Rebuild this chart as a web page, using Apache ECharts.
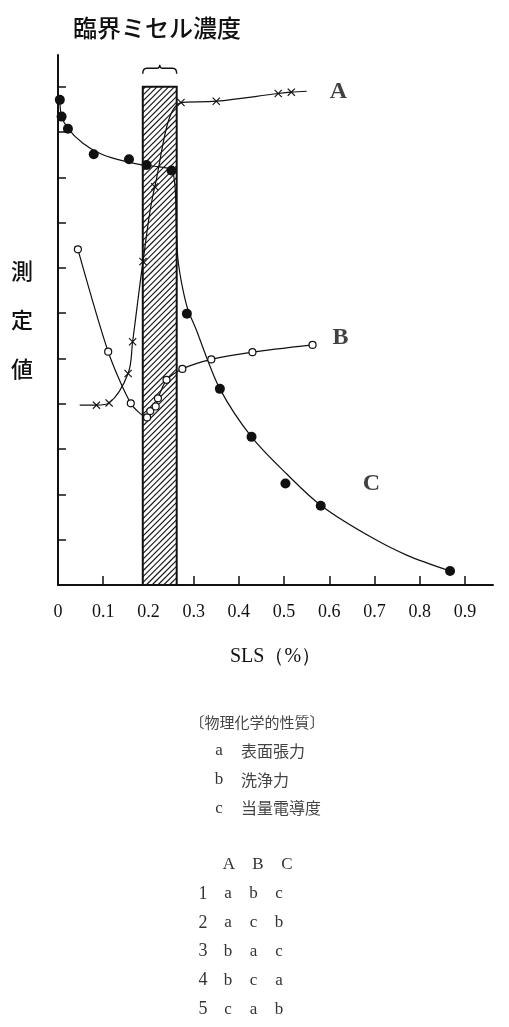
<!DOCTYPE html>
<html>
<head>
<meta charset="utf-8">
<script src="https://cdn.jsdelivr.net/npm/echarts@6/dist/echarts.min.js"></script>
<style>
  html, body { margin: 0; padding: 0; background: #fff; }
  #chart { width: 509px; height: 1027px; }
</style>
</head>
<body>
<div id="chart"></div>
<script>
// 軸
var xTickValues = [0.1, 0.2, 0.3, 0.4, 0.5, 0.6, 0.7, 0.8, 0.9];
var xLabelValues = [0, 0.1, 0.2, 0.3, 0.4, 0.5, 0.6, 0.7, 0.8, 0.9];
var yTickValues = [1, 2, 3, 4, 5, 6, 7, 8, 9, 10, 11];

// A: × 印
var aLeadIn = [0.048, 3.97];
var aPoints = [[0.085, 3.97], [0.113, 4.02], [0.155, 4.67], [0.165, 5.37], [0.188, 7.14],
               [0.214, 8.79], [0.272, 10.65], [0.350, 10.68], [0.487, 10.85], [0.516, 10.88]];
var aTail = [0.550, 10.90];

// B: ○ 印
var bPoints = [[0.044, 7.41], [0.111, 5.15], [0.161, 4.01], [0.197, 3.70], [0.204, 3.84],
               [0.216, 3.94], [0.221, 4.12], [0.240, 4.53], [0.275, 4.77], [0.339, 4.98],
               [0.430, 5.14], [0.563, 5.30]];

// C: ● 印（測定点）と引かれた曲線
var cDots = [[0.004, 10.71], [0.008, 10.34], [0.022, 10.07], [0.079, 9.51], [0.157, 9.40],
             [0.196, 9.27], [0.251, 9.15], [0.285, 5.99], [0.358, 4.33], [0.428, 3.27],
             [0.503, 2.24], [0.581, 1.75], [0.867, 0.31]];
var cCurve = [[0.004, 10.71], [0.008, 10.34], [0.022, 10.08], [0.055, 9.75], [0.092, 9.53],
              [0.129, 9.40], [0.188, 9.27], [0.225, 9.23], [0.251, 9.16], [0.258, 8.87],
              [0.262, 7.76], [0.2655, 7.17], [0.2765, 6.51], [0.2876, 6.07], [0.306, 5.63],
              [0.328, 5.04], [0.358, 4.33], [0.428, 3.27], [0.506, 2.45], [0.581, 1.76],
              [0.697, 1.03], [0.771, 0.66], [0.867, 0.31]];

// 臨界ミセル濃度の範囲
var cmcBand = [0.1875, 0.2625, 11];

// 曲線ラベル
var curveLabels = [[0.620, 10.88, 'A'], [0.625, 5.45, 'B'], [0.693, 2.23, 'C']];

// 下の文章
var propTitle = '〔物理化学的性質〕';
var propLetters = ['a', 'b', 'c'];
var propNames = ['表面張力', '洗浄力', '当量電導度'];
var tableHeader = ['A', 'B', 'C'];
var tableRows = [
    ['1', 'a', 'b', 'c'],
    ['2', 'a', 'c', 'b'],
    ['3', 'b', 'a', 'c'],
    ['4', 'b', 'c', 'a'],
    ['5', 'c', 'a', 'b']
];

var SERIF = '"Liberation Serif", "Times New Roman", serif';
var CJK = '"Noto Sans CJK JP", sans-serif';
var CROSS = 'path://M0,1L1,0L5,4L9,0L10,1L6,5L10,9L9,10L5,6L1,10L0,9L4,5Z';

var chart = echarts.init(document.getElementById('chart'), null, { renderer: 'canvas' });

function plain(p) {
    return { value: p, symbol: 'none' };
}

// centripetal Catmull-Rom -> bezier path
function splinePath(pts) {
    var n = pts.length;
    var d = 'M' + pts[0][0] + ',' + pts[0][1];
    function dist(a, b) {
        return Math.pow(Math.hypot(b[0] - a[0], b[1] - a[1]), 0.5);
    }
    for (var i = 0; i < n - 1; i++) {
        var p0 = pts[Math.max(0, i - 1)], p1 = pts[i], p2 = pts[i + 1], p3 = pts[Math.min(n - 1, i + 2)];
        var d1 = dist(p0, p1), d2 = dist(p1, p2), d3 = dist(p2, p3);
        var b1 = p1, b2 = p2;
        if (d1 > 1e-6) {
            b1 = [0, 1].map(function (k) {
                return (d1 * d1 * p2[k] - d2 * d2 * p0[k] + (2 * d1 * d1 + 3 * d1 * d2 + d2 * d2) * p1[k]) /
                    (3 * d1 * (d1 + d2));
            });
        }
        if (d3 > 1e-6) {
            b2 = [0, 1].map(function (k) {
                return (d3 * d3 * p1[k] - d2 * d2 * p3[k] + (2 * d3 * d3 + 3 * d3 * d2 + d2 * d2) * p2[k]) /
                    (3 * d3 * (d3 + d2));
            });
        }
        d += 'C' + b1[0] + ',' + b1[1] + ' ' + b2[0] + ',' + b2[1] + ' ' + p2[0] + ',' + p2[1];
    }
    return d;
}

function renderCurve(points) {
    return function (params, api) {
        var px = points.map(function (p) { return api.coord(p); });
        return {
            type: 'path',
            shape: { pathData: splinePath(px) },
            style: { fill: 'none', stroke: '#111', lineWidth: 1.2 }
        };
    };
}

// 斜線付きの帯と上の括弧
function renderBand(params, api) {
    var lt = api.coord([api.value(0), api.value(2)]);
    var rb = api.coord([api.value(1), 0]);
    var x0 = lt[0], y0 = lt[1], x1 = rb[0], y1 = rb[1];
    var children = [{
        type: 'rect',
        shape: { x: x0, y: y0, width: x1 - x0, height: y1 - y0 },
        style: { fill: '#fff', stroke: 'none' }
    }];
    var step = 5.8;
    for (var c = x0 + y0 + step / 2; c < x1 + y1; c += step) {
        var xa = Math.max(x0, c - y1);
        var xb = Math.min(x1, c - y0);
        if (xb <= xa) continue;
        children.push({
            type: 'line',
            shape: { x1: xa, y1: c - xa, x2: xb, y2: c - xb },
            style: { stroke: '#111', lineWidth: 1.1 }
        });
    }
    children.push({
        type: 'rect',
        shape: { x: x0, y: y0, width: x1 - x0, height: y1 - y0 },
        style: { fill: 'none', stroke: '#111', lineWidth: 2 }
    });
    var xc = (x0 + x1) / 2;
    var yLine = y0 - 18.5, yEnd = y0 - 13, yPeak = y0 - 22;
    children.push({
        type: 'path',
        shape: {
            pathData: 'M' + x0 + ',' + yEnd +
                'Q' + x0 + ',' + yLine + ' ' + (x0 + 4) + ',' + yLine +
                'L' + (xc - 3) + ',' + yLine +
                'Q' + xc + ',' + yLine + ' ' + xc + ',' + yPeak +
                'Q' + xc + ',' + yLine + ' ' + (xc + 3) + ',' + yLine +
                'L' + (x1 - 4) + ',' + yLine +
                'Q' + x1 + ',' + yLine + ' ' + x1 + ',' + yEnd
        },
        style: { fill: 'none', stroke: '#111', lineWidth: 1.4 }
    });
    return { type: 'group', children: children };
}

var graphics = [{
    type: 'text', x: 157, y: 28,
    style: { text: '臨界ミセル濃度', font: '500 24px ' + CJK, fill: '#111', align: 'center', verticalAlign: 'middle' }
}, {
    type: 'text', x: 257, y: 722,
    style: { text: propTitle, font: '15px ' + CJK, fill: '#444', align: 'center', verticalAlign: 'middle' }
}];
propLetters.forEach(function (l, i) {
    graphics.push({
        type: 'text', x: 219, y: 751 + i * 28.7,
        style: { text: l, font: '17px ' + SERIF, fill: '#333', align: 'center', verticalAlign: 'middle' }
    });
    graphics.push({
        type: 'text', x: 241, y: 751 + i * 28.7,
        style: { text: propNames[i], font: '16px ' + CJK, fill: '#444', align: 'left', verticalAlign: 'middle' }
    });
});
tableHeader.forEach(function (h, j) {
    graphics.push({
        type: 'text', x: 229 + j * 29, y: 865,
        style: { text: h, font: '17px ' + SERIF, fill: '#333', align: 'center', verticalAlign: 'middle' }
    });
});
tableRows.forEach(function (row, i) {
    row.forEach(function (cell, j) {
        graphics.push({
            type: 'text', x: j === 0 ? 203 : 228 + (j - 1) * 25.5, y: 894 + i * 28.8,
            style: { text: cell, font: (j === 0 ? '18px ' : '17px ') + SERIF, fill: '#333', align: 'center', verticalAlign: 'middle' }
        });
    });
});

var option = {
    animation: false,
    backgroundColor: '#fff',
    grid: { left: 58, right: 16, top: 55, bottom: 442, containLabel: false },
    xAxis: {
        type: 'value', min: 0, max: 0.962,
        splitLine: { show: false },
        axisLine: { onZero: false, lineStyle: { color: '#111', width: 2 } },
        axisTick: { inside: true, length: 9, customValues: xTickValues, lineStyle: { color: '#111', width: 1.5 } },
        axisLabel: {
            customValues: xLabelValues, margin: 18, color: '#111', fontSize: 18, fontFamily: SERIF,
            formatter: function (v) { return v === 0 ? '0' : v.toFixed(1); }
        },
        name: 'SLS（%）', nameLocation: 'middle', nameGap: 62,
        nameTextStyle: { fontSize: 20, fontFamily: SERIF, color: '#111' }
    },
    yAxis: {
        type: 'value', min: 0, max: 11.7,
        splitLine: { show: false },
        axisLine: { onZero: false, lineStyle: { color: '#111', width: 2 } },
        axisTick: { inside: true, length: 8, customValues: yTickValues, lineStyle: { color: '#111', width: 1.5 } },
        axisLabel: { show: false },
        name: '測\n定\n値', nameLocation: 'middle', nameGap: 25, nameRotate: 0,
        nameTextStyle: { fontSize: 22, lineHeight: 49, fontFamily: CJK, fontWeight: 500, color: '#111' }
    },
    graphic: graphics,
    series: [{
        type: 'custom',
        renderItem: renderBand,
        encode: { x: [0, 1], y: 2 },
        data: [cmcBand],
        silent: true,
        z: 1
    }, {
        type: 'line',
        name: 'A',
        smooth: 0.35,
        symbol: CROSS, symbolSize: 8,
        lineStyle: { color: '#111', width: 1.2 },
        itemStyle: { color: '#111' },
        emphasis: { disabled: true },
        data: [plain(aLeadIn)].concat(aPoints, [plain(aTail)]),
        z: 3
    }, {
        type: 'line',
        name: 'B',
        smooth: 0.25,
        symbol: 'circle', symbolSize: 7,
        lineStyle: { color: '#111', width: 1.2 },
        itemStyle: { color: '#fff', borderColor: '#111', borderWidth: 1.2 },
        emphasis: { disabled: true },
        data: bPoints,
        z: 3
    }, {
        type: 'custom',
        name: 'C',
        renderItem: renderCurve(cCurve),
        encode: { x: 0, y: 1 },
        data: [cCurve[0]],
        silent: true,
        z: 3
    }, {
        type: 'scatter',
        name: 'C',
        symbol: 'circle', symbolSize: 10,
        itemStyle: { color: '#111', opacity: 1 },
        emphasis: { disabled: true },
        data: cDots,
        z: 4
    }, {
        type: 'scatter',
        symbolSize: 1,
        itemStyle: { color: 'rgba(0,0,0,0)' },
        label: {
            show: true, position: 'inside',
            formatter: function (p) { return p.value[2]; },
            fontFamily: SERIF, fontWeight: 'bold', fontSize: 24, color: '#111'
        },
        emphasis: { disabled: true },
        data: curveLabels,
        z: 4
    }]
};

chart.setOption(option);
</script>
</body>
</html>
